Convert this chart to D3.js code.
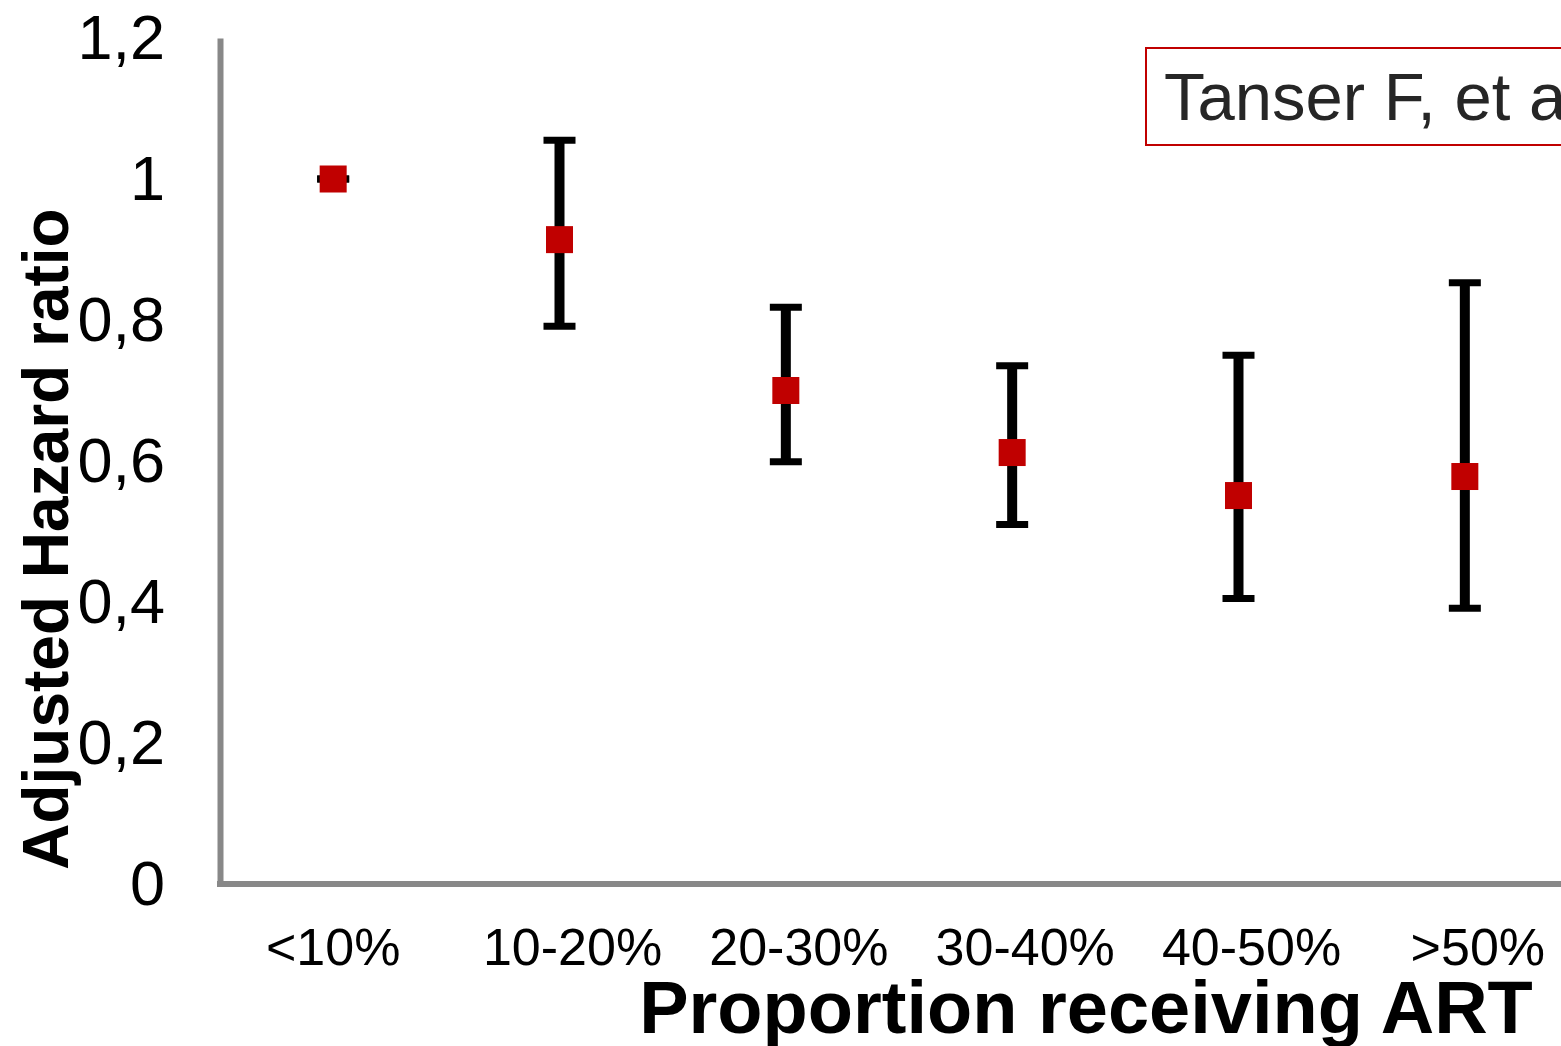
<html>
<head>
<meta http-equiv="Content-Type" content="text/html; charset=utf-8">
<title>Adjusted Hazard ratio</title>
<script src="https://cdnjs.cloudflare.com/ajax/libs/d3/7.8.5/d3.min.js"></script>
<style>
body, html {
  margin: 0;
  padding: 0;
  background: white;
  overflow: hidden;
}
text {
  font-family: "Liberation Sans", Arial, sans-serif;
}
.axis path {
  stroke: #888888;
  stroke-width: 6;
  fill: none;
}
.axis line { display: none; }
.axis text {
  fill: black;
}
</style>
</head>
<body>
<div id="chart"></div>
<script type="text/javascript">

// categories and estimates
var categories = ["<10%", "10-20%", "20-30%", "30-40%", "40-50%", ">50%"]
var hazard = [1.0, 0.914, 0.700, 0.612, 0.551, 0.578]
var lower  = [1.0, 0.791, 0.599, 0.510, 0.405, 0.391]
var upper  = [1.0, 1.055, 0.818, 0.735, 0.750, 0.853]
var yTicks = [0, 0.2, 0.4, 0.6, 0.8, 1, 1.2]

var W = 1561, H = 1046

var svg = d3.select("#chart").append("svg")
  .attr("width", W)
  .attr("height", H)

var x = d3.scaleBand().domain(categories).range([220, 1578]).padding(0)
var y = d3.scaleLinear().domain([0, 1.2]).range([884, 38])

var cx = function(i) { return x(categories[i]) + x.bandwidth() / 2 }

// y axis
svg.append("g")
  .attr("class", "axis axis--y")
  .attr("transform", "translate(220,0)")
  .call(d3.axisLeft(y).tickValues(yTicks).tickSize(0).tickSizeOuter(0).tickPadding(55)
    .tickFormat(function(d) { return String(d).replace(".", ",") }))
  .selectAll("text")
    .style("font-size", "63px")

// x axis
var xa = svg.append("g")
  .attr("class", "axis axis--x")
  .attr("transform", "translate(0,884)")
  .call(d3.axisBottom(x).tickSize(0).tickSizeOuter(0).tickPadding(0))
xa.select(".domain").attr("d", "M217,0H" + W)
xa.selectAll("text")
  .style("font-size", "52px")
  .attr("y", 81)
  .attr("dy", 0)
  .attr("dx", function(d, i) { return i ? 13 : 0 })

// axis titles
svg.append("text")
  .attr("transform", "translate(68,539) rotate(-90)")
  .attr("text-anchor", "middle")
  .style("font-size", "64px")
  .style("font-weight", "bold")
  .text("Adjusted Hazard ratio")

svg.append("text")
  .attr("x", 1086)
  .attr("y", 1033)
  .attr("text-anchor", "middle")
  .style("font-size", "74px")
  .style("font-weight", "bold")
  .text("Proportion receiving ART")

// citation box
svg.append("rect")
  .attr("x", 1146)
  .attr("y", 48)
  .attr("width", 500)
  .attr("height", 97)
  .style("fill", "white")
  .style("stroke", "#C00000")
  .style("stroke-width", 2)

svg.append("text")
  .attr("x", 1164)
  .attr("y", 120)
  .style("font-size", "67px")
  .style("fill", "#262626")
  .text("Tanser F, et al.")

// error bars
var bars = svg.selectAll(".ci")
  .data(categories)
  .enter().append("g")
    .attr("class", "ci")

bars.append("line")
  .attr("x1", function(d, i) { return cx(i) })
  .attr("x2", function(d, i) { return cx(i) })
  .attr("y1", function(d, i) { return y(upper[i]) })
  .attr("y2", function(d, i) { return y(lower[i]) })
  .style("stroke", "black")
  .style("stroke-width", 10)

bars.append("line")
  .attr("x1", function(d, i) { return cx(i) - 16 })
  .attr("x2", function(d, i) { return cx(i) + 16 })
  .attr("y1", function(d, i) { return y(upper[i]) })
  .attr("y2", function(d, i) { return y(upper[i]) })
  .style("stroke", "black")
  .style("stroke-width", 7)

bars.append("line")
  .attr("x1", function(d, i) { return cx(i) - 16 })
  .attr("x2", function(d, i) { return cx(i) + 16 })
  .attr("y1", function(d, i) { return y(lower[i]) })
  .attr("y2", function(d, i) { return y(lower[i]) })
  .style("stroke", "black")
  .style("stroke-width", 7)

// point estimates
bars.append("rect")
  .attr("x", function(d, i) { return cx(i) - 13.5 })
  .attr("y", function(d, i) { return y(hazard[i]) - 13.5 })
  .attr("width", 27)
  .attr("height", 27)
  .style("fill", "#C00000")

</script>
</body>
</html>
